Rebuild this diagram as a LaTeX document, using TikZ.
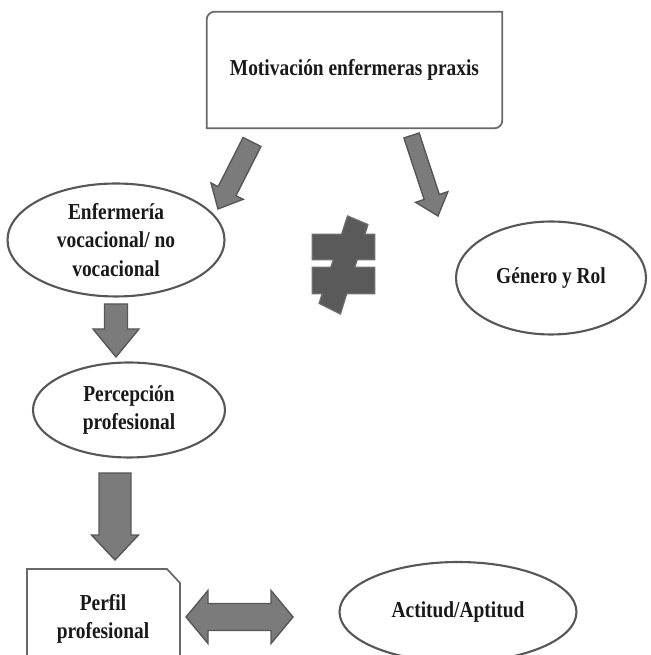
\documentclass[tikz,border=0pt]{standalone}
\usepackage{fontspec}
\setmainfont{Liberation Serif}[FakeStretch=0.85]
\usetikzlibrary{calc,shapes.geometric}

\definecolor{arrowgray}{HTML}{7B7B7B}
\definecolor{edgegray}{HTML}{575757}
\definecolor{signgray}{HTML}{5A5A5A}
\definecolor{signedge}{HTML}{6E6E6E}

\tikzset{
  txt/.style={font=\bfseries\fontsize{13}{16}\selectfont, align=center, text=black!90},
  oval/.style={ellipse, draw=edgegray, line width=1.2pt, txt, inner sep=0pt},
  boxline/.style={draw=edgegray!90, line width=1pt},
  arrowstyle/.style={fill=arrowgray, draw=edgegray, line width=0.8pt, line join=miter},
}

% flecha de bloque: cola, punta, medio ancho del cuerpo, medio ancho de la punta, largo de la punta
\newcommand{\blockarrow}[5]{%
  \coordinate (ba-h) at ($(#2)!#5!(#1)$);
  \draw[arrowstyle] ($(#1)!#3!90:(#2)$) -- ($(ba-h)!#3!-90:(#1)$) -- ($(ba-h)!#4!-90:(#1)$) -- (#2)
    -- ($(ba-h)!#4!90:(#1)$) -- ($(ba-h)!#3!90:(#1)$) -- ($(#1)!#3!-90:(#2)$) -- cycle;
}

\begin{document}
\begin{tikzpicture}[x=0.02cm, y=0.02cm]
    \useasboundingbox (0,0) rectangle (650,655);
    \clip (0,0) rectangle (650,655);
    % Cuadro superior
    \node[txt, minimum width=5.9cm, minimum height=2.32cm] (motiv) at (354.5,585) {Motivación enfermeras praxis};
    \draw[boxline] (motiv.south west) -- ([yshift=-0.16cm]motiv.north west)
        arc[start angle=180, end angle=90, radius=0.16cm] -- (motiv.north east)
        -- ([yshift=0.16cm]motiv.south east) arc[start angle=0, end angle=-90, radius=0.16cm] -- cycle;
    % Ovalos
    \node[oval, minimum width=4.34cm, minimum height=2.26cm] (enf) at (116,415) {Enfermería\\vocacional/ no\\vocacional};
    \node[oval, minimum width=3.8cm, minimum height=2.26cm] (genero) at (551,377) {Género y Rol};
    \node[oval, minimum width=3.84cm, minimum height=1.9cm] (perc) at (129,245) {Percepción\\profesional};
    \node[oval, minimum width=4.74cm, minimum height=2cm] (actitud) at (458,43) {Actitud/Aptitud};
    % Perfil profesional
    \node[txt] (perfil) at (103,36) {Perfil\\profesional};
    \draw[boxline] (27,-20) -- (27,86) -- (167,86) -- (180,72) -- (180,-20);
    % Flechas
    \coordinate (d1a) at (252,513);
    \coordinate (d1b) at (218,446);
    \blockarrow{d1a}{d1b}{0.2cm}{0.36cm}{0.4cm}
    \coordinate (d2a) at (411.5,519.5);
    \coordinate (d2b) at (438,439);
    \blockarrow{d2a}{d2b}{0.16cm}{0.34cm}{0.4cm}
    \coordinate (d3a) at (116,351);
    \coordinate (d3b) at (116,298);
    \blockarrow{d3a}{d3b}{0.23cm}{0.46cm}{0.56cm}
    \coordinate (d4a) at (115,182);
    \coordinate (d4b) at (115,95);
    \blockarrow{d4a}{d4b}{0.32cm}{0.47cm}{0.5cm}
    % Flecha doble
    \coordinate (da) at (186,38);
    \coordinate (db) at (293,38);
    \draw[arrowstyle] (da) -- ++(22,26.5) -- ++(0,-13) -- ($(db)+(-22,13.5)$) -- ++(0,13) -- (db)
        -- ++(-22,-26.5) -- ++(0,13) -- ($(da)+(22,-13.5)$) -- ++(0,-13) -- cycle;
    % Signo distinto
    \draw[signedge, line width=1.6pt] (313,396) rectangle (374,420) (313,362) rectangle (374,387)
        (348,438) -- (367,430) -- (340,342) -- (320,352) -- cycle;
    \fill[signgray] (313,396) rectangle (374,420) (313,362) rectangle (374,387);
    \fill[signgray] (348,438) -- (367,430) -- (340,342) -- (320,352) -- cycle;
\end{tikzpicture}
\end{document}
